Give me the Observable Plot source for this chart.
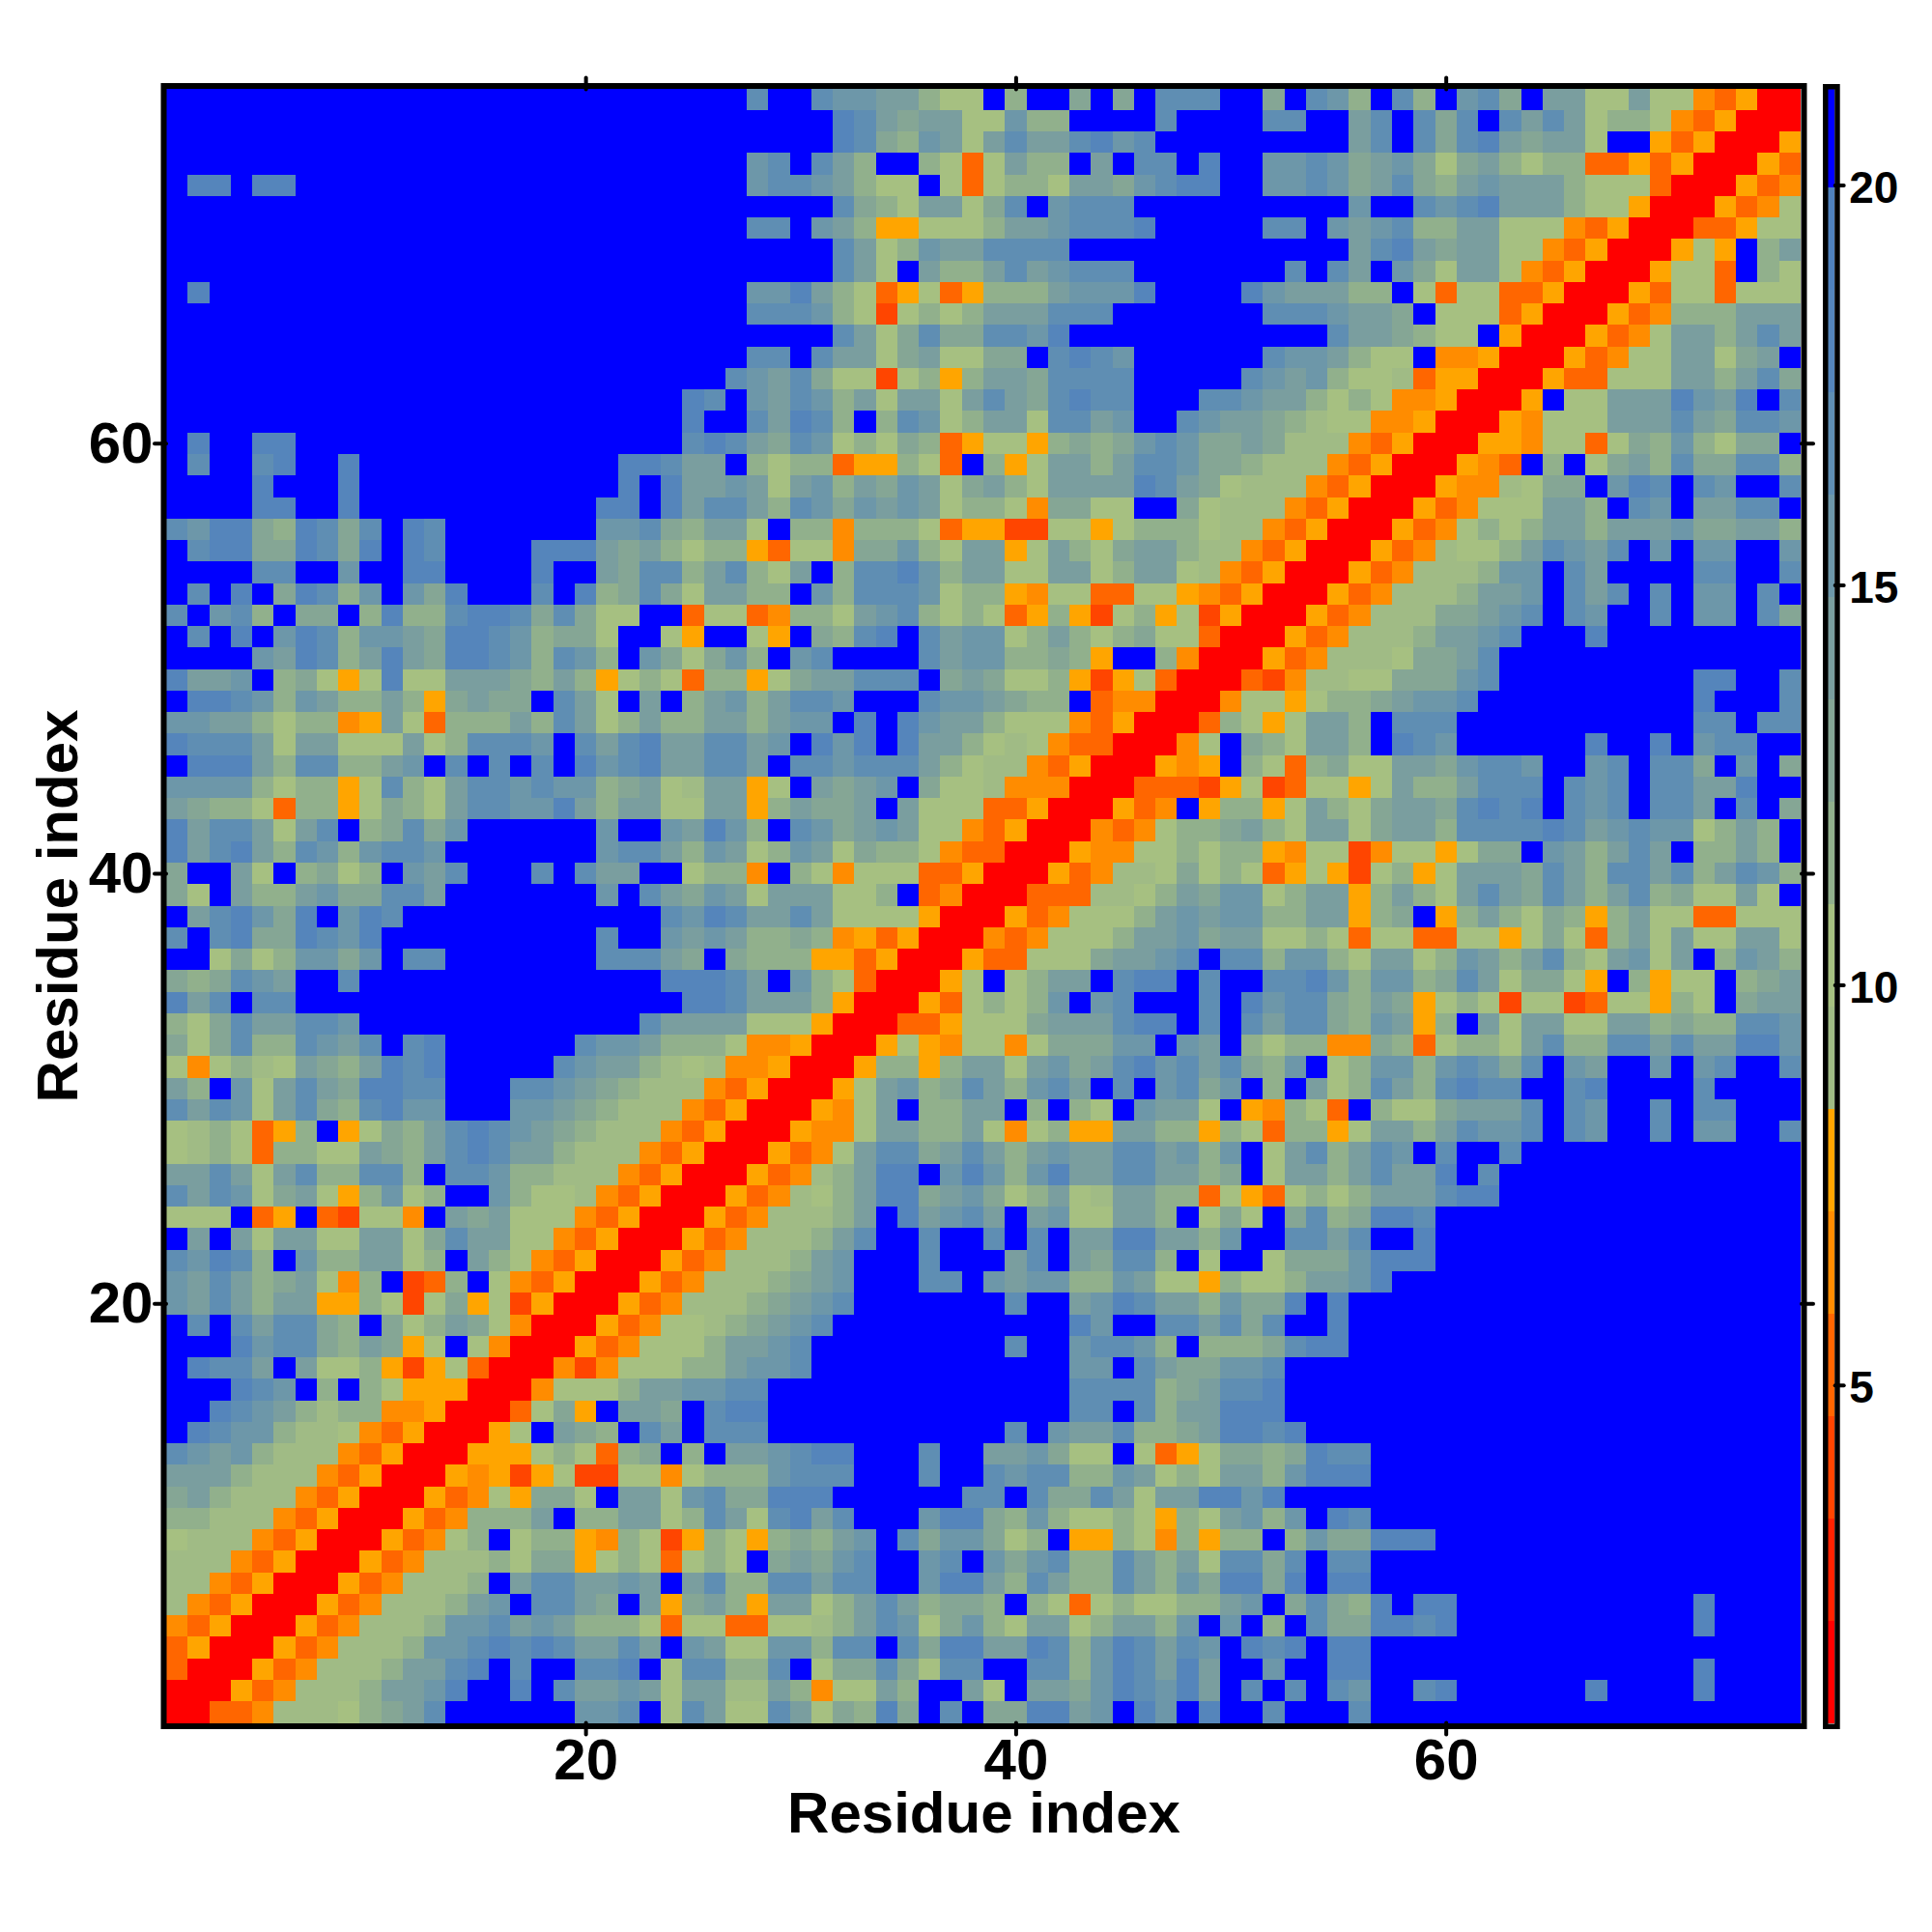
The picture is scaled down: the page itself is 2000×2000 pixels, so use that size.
<!DOCTYPE html>
<html>
<head>
<meta charset="utf-8">
<script src="https://cdn.jsdelivr.net/npm/d3@7"></script>
<script src="https://cdn.jsdelivr.net/npm/@observablehq/plot@0.6"></script>
<style>
html,body{margin:0;padding:0;background:#fff}
#page{position:relative;width:2000px;height:2000px;background:#fff;font-family:"Liberation Sans",sans-serif}
#page svg{position:absolute;top:0;overflow:visible}
</style>
</head>
<body>
<div id="page"></div>
<script>
// Distance bins of the colour bar (upper limits)
const breaks = [2.05,3.33,4.61,5.89,7.17,8.45,9.73,11.01,12.29,13.57,14.85,16.13,17.41,18.69,19.97];
const binColors = ["#ff0000","#ff2200","#ff4500","#ff6600","#ff8c00","#ffa500",
  "#a0bb85","#a6c081","#91b08c","#85a695","#7a9e9f","#6d97a9","#5f8eb3","#5585bb","#4f81bd","#0000ff"];
const binMid = [1.4,2.7,4,5.25,6.5,7.8,9.1,10.4,11.65,12.9,14.2,15.5,16.8,18.05,19.3,20.6];
const barMin = 0.77, barMax = 21.2;
const axisTicks = [20,40,60];
const barTicks = [5,10,15,20];
const residues = 76;
const axisTitle = "Residue index";

// Upper triangle, one string per residue i, starting at j = i. One hex digit = distance bin.
// A row that ends early is blue (bin f) out to residue 76.
const triangle = [
"00334666789acffffffbbcf7ca77ca798d9fcf99ddabfdbfdffcfffc",
"005346668aabdffdfcaaba7aa66a8477a8ffa7faa9bdcbdafcfcfcbffcdffffffdffffd",
"005346668aacdfcffccdf7cc88cf799c97ccffcc8bdcadaffbffddfffffffffffffffd",
"005346668bbcdcdcaacafba77bb8ccfc9ddaadc8bdcacbfdcdfdd",
"005346668bbcaba8887377337768acb79b87aa78aa8bfbf8fc99ddcdfffffffffffd",
"005346668abfcca9fa59a85aa78aca8998f873787788abf9c98dfddfffffffffffd",
"005346668faccaabafac88ccaccffbdda8ca88ca8b9dd9dfdd",
"00534666879957873787f9a9bcffbcfb9bc88ca8a7cc9cfcc",
"0053478f788548725875898abfc9bb978f558748588f8b99ddd",
"00534888af88aa78ca7cdacfffbdd98b87787587ab8bfdc",
"0053475997faa7bc99dddffffffccfc99ca7aaddbd",
"00545257227747888bcccfffcffcbcc88ba787aa8bddd",
"00555787389f8faabcddfffcffaab977f73579989dcc",
"0057fa98fcafcccfffffffffffcfbaac889addcd",
"003795faa9fcddffffffffffffffccfc8aaddd",
"0047778aabbccffffffffffffffcccc89accd",
"0042477788abbcffffffffffffbbfca99bbc",
"005347778aabcfffffffffcffbccb8f8889cdd",
"0053477689abcfffffffffffdbffccac9cffd",
"0053466689abcfffffffcffabdcaa8b99dfd",
"0053466689abfffccfbabb88ba7758778aabd",
"005346668abfffcfffacfa9cc8f7ff7999bddd",
"005346668acffcffcfcfaaddaa8bffccacffd",
"005346668afdabcafab77aa8f797f9c89ddc",
"00534678add9ab978a76aa8837537878aaacdd",
"0053468addfbdb8bdaaccaa89f7aa8acaadfc",
"005347acc9aca8abaaccab8bf7ac8acbfcffc",
"005447aa88a747855aa8858738857aa8acbbcfcbffcfbbffc",
"00547af88aaf8f87fbaa7f54873f8779aaacfcbffcfccfff",
"0057ab89ca8bcafcfbc9bf8fa78ca8cdccffcdffffc",
"0058858aa7ab9acdbcac98bf78bb8bcb9cfbaffbfbcffc",
"0057547747999bbfbaf8788449837887ac88ccacaaddb",
"003357779aaacddfcfcacc98ba58fa7aa77aa8988ccb",
"00537878bfbcfffcfdbcc98a957872772377587f9aa",
"0057f78aafcddfcffccdb8bb89ca79975f8577f89a",
"005337779aabcfcc8bb87aa78ba8ac87ab7af8ba8",
"004347778aab9aa77873773377579738a7a77aa7",
"005347778ababb88aa589f58a879858a7733777",
"003336678a9bb78aa58a87aca9ca8ac8977a7f",
"005346679787357527857aaa9ca8ccac8acb8",
"00544778788547724775799fba8acaf88a8f",
"004347889a87aa79aa8ccccdcabcbb78a8f",
"00534f58857a879aa9cdcdfcbcfccafcf9",
"00333257237757a88acccfcbcfccaadff",
"00545f8738977aa9bccbffbcfcc9fbf9",
"0047f987aa8fdcbffffffdffdfbccff",
"0038757aa8fcccfffffffffffccfcc",
"0047757889abbcffffffffffdfffc",
"003246677999bcfffffffffddffc",
"00534666799ac",
"005346668aabcfffd",
"0053466699abcfcbffcfbbfc9",
"005346668aabfcacfcfbbfcf",
"005346668bbfcaffffccffc",
"005346778acbacfbfbbffb",
"005347878aa8aaab99aa8",
"00534777aa8fcbfaaccf",
"005446799fbdcfcbffc",
"00543f8f79a8c99cc8",
"00554773798b8799f",
"0054777aaaca9ccb",
"005f77aaadbadfc",
"00533777aa8ac9",
"0053477aa79af",
"005347aa8aca",
"00534888aaa",
"0053773777",
"005773f87",
"00575f8a",
"0033577",
"005347",
"00534",
"0053",
"005",
"00",
"0"
];

const cells = [];
triangle.forEach((text, r) => {
  const i = r + 1;
  const full = text.padEnd(residues - r, "f");
  for (let k = 0; k < residues - r; k++) {
    const j = i + k;
    const d = binMid[parseInt(full[k], 16)];
    cells.push({x: j, y: i, d});
    if (j !== i) cells.push({x: i, y: j, d});
  }
});

const fontFamily = '"Liberation Sans", sans-serif';
const colorScale = {type: "threshold", domain: breaks, range: binColors};
const tickStyle = {ticks: axisTicks, tickSize: 12, strokeWidth: 4, strokeLinecap: "round", label: null};

const main = Plot.plot({
  width: 2000, height: 2000,
  marginLeft: 172, marginRight: 136, marginTop: 91.5, marginBottom: 216.5,
  style: {background: "transparent", fontFamily},
  x: {domain: [0.5, 76.5]},
  y: {domain: [0.5, 76.5]},
  color: colorScale,
  marks: [
    Plot.rect(cells, {x1: c => c.x - 0.5, x2: c => c.x + 0.5, y1: c => c.y - 0.5, y2: c => c.y + 0.5, fill: "d", shapeRendering: "crispEdges"}),
    Plot.axisX({...tickStyle, anchor: "bottom", fontSize: 60, fontWeight: "bold", tickPadding: 3, fill: "black"}),
    Plot.axisX({...tickStyle, anchor: "top", tickFormat: () => ""}),
    Plot.axisY({...tickStyle, anchor: "left", fontSize: 60, fontWeight: "bold", tickPadding: 2, fill: "black"}),
    Plot.axisY({...tickStyle, anchor: "right", tickFormat: () => ""}),
    Plot.frame({stroke: "black", strokeWidth: 6, inset: -3}),
    Plot.text([axisTitle], {frameAnchor: "bottom", dy: 113, fontSize: 60, fontWeight: "bold", fill: "black"}),
    Plot.text([axisTitle], {frameAnchor: "left", textAnchor: "middle", dx: -112, rotate: -90, fontSize: 60, fontWeight: "bold", fill: "black"})
  ]
});
main.style.left = "0px";

const barLow = [barMin, ...breaks];
const barHigh = [...breaks, barMax];
const barBins = barLow.map((low, k) => ({low, high: barHigh[k], mid: binMid[k]}));

const bar = Plot.plot({
  width: 120, height: 2000,
  marginLeft: 12, marginRight: 101.3, marginTop: 92, marginBottom: 216,
  style: {background: "transparent", fontFamily},
  x: {domain: [0, 1], axis: null},
  y: {domain: [barMin, barMax], axis: null},
  color: colorScale,
  marks: [
    Plot.rect(barBins, {x1: () => 0, x2: () => 1, y1: "low", y2: "high", fill: "mid", shapeRendering: "crispEdges"}),
    Plot.axisY({ticks: barTicks, anchor: "right", tickSize: 9, strokeWidth: 4, strokeLinecap: "round", tickFormat: () => "", label: null}),
    Plot.axisY({ticks: barTicks, anchor: "right", tickSize: 9, tickPadding: 6, dy: 3, strokeOpacity: 0, fontSize: 46, fontWeight: "bold", fill: "black", label: null}),
    Plot.frame({stroke: "black", strokeWidth: 5.5, inset: -2.75})
  ]
});
bar.style.left = "1880px";

const page = document.getElementById("page");
page.append(main, bar);
</script>
</body>
</html>
